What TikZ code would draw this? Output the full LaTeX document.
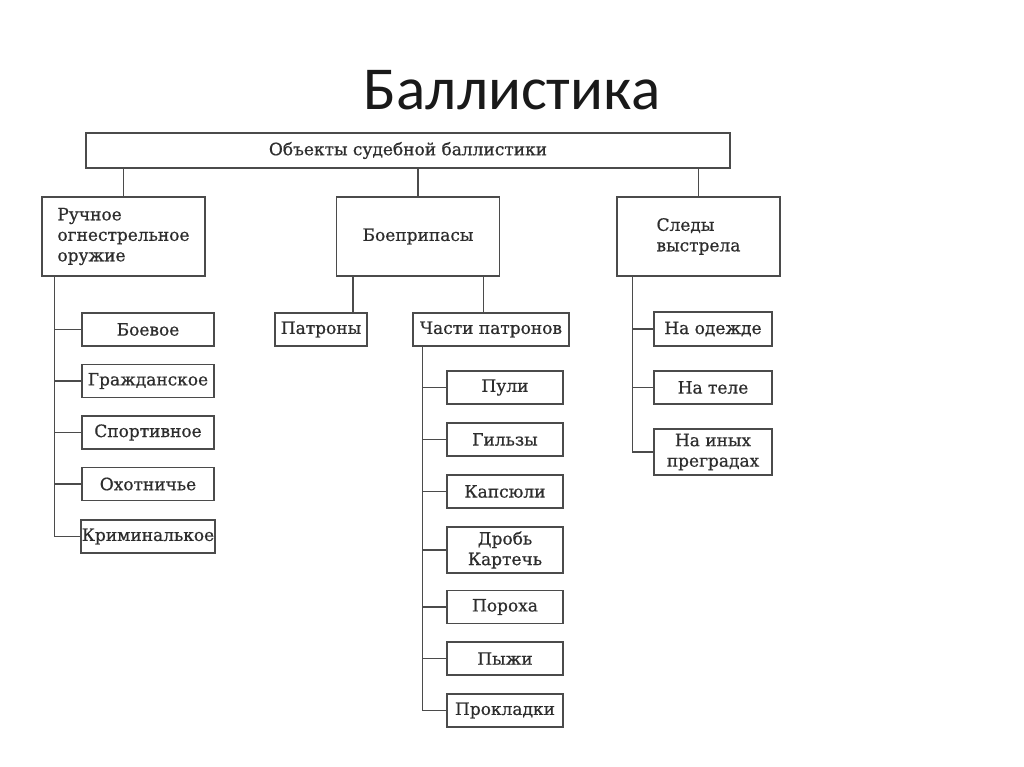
\documentclass[tikz,border=0pt]{standalone}
\usepackage{fontspec}
\setmainfont{DejaVu Serif}
\newfontfamily\boxfont[FakeBold=0.7]{DejaVu Serif}
\newfontfamily\titlefont{Carlito}
\usetikzlibrary{positioning}

\definecolor{inkgray}{RGB}{45, 45, 45}
\definecolor{linegray}{RGB}{75, 75, 75}

\tikzset{
    box/.style={draw=linegray, line width=1.5pt, fill=white, align=center,
        inner sep=1pt, text=inkgray, font=\boxfont\fontsize{17}{20.5}\selectfont},
    bigbox/.style={box, minimum width=163pt, minimum height=79pt, align=left},
    link/.style={draw=linegray, line width=1.5pt},
}

\begin{document}
\begin{tikzpicture}[x=1pt, y=-1pt]
    \useasboundingbox[fill=white] (0,0) rectangle (1024,767);

    % Title
    \node[font=\titlefont\fontsize{61}{66}\selectfont, text=black!90, anchor=base] (title) at (512,110) {Баллистика};

    % Top level
    \node[box, minimum width=644pt, minimum height=35pt] (objects) at (408,150.5) {Объекты судебной баллистики};
    \node[bigbox] (weapon) at (123.5,236.5) {Ручное\\огнестрельное\\оружие};
    \node[bigbox, align=center] (ammo) at (418,236.5) {Боеприпасы};
    \node[bigbox] (traces) at (698.5,236.5) {Следы\\выстрела};

    \foreach \n in {weapon, ammo, traces}
        \draw[link] (objects.south -| \n.north) -- (\n.north);

    % Weapon kinds
    \foreach \name/\y/\txt in {combat/329.5/Боевое, civil/381/Гражданское,
            sport/432.5/Спортивное, hunt/484/Охотничье, crim/536.5/Криминалькое} {
        \node[box, minimum width=132pt, minimum height=33pt] (\name) at (148,\y) {\txt};
    }
    \coordinate (trunkW) at ([xshift=13pt]weapon.south west);
    \draw[link] (trunkW) |- (crim.west);
    \foreach \name in {combat, civil, sport, hunt}
        \draw[link] (trunkW |- \name.west) -- (\name.west);

    % Ammunition
    \node[box, minimum width=92pt, minimum height=33pt] (cart) at (321,329.5) {Патроны};
    \node[box, minimum width=156pt, minimum height=33pt] (parts) at (491,329.5) {Части патронов};
    \coordinate (ammoL) at ([xshift=17pt]ammo.south west);
    \coordinate (ammoR) at ([xshift=-17pt]ammo.south east);
    \draw[link] (ammoL) -- (ammoL |- cart.north);
    \draw[link] (ammoR) -- (ammoR |- parts.north);

    % Cartridge parts
    \foreach \name/\y/\h/\txt in {bullet/387.5/33/Пули, shell/439.5/33/Гильзы,
            primer/491.5/33/Капсюли, shot/550/46/{Дробь\\Картечь},
            powder/607/33/Пороха, wad/658.5/33/Пыжи, gasket/710.5/33/Прокладки} {
        \node[box, minimum width=116pt, minimum height=\h pt] (\name) at (505,\y) {\txt};
    }
    \coordinate (trunkP) at ([xshift=10pt]parts.south west);
    \draw[link] (trunkP) |- (gasket.west);
    \foreach \name in {bullet, shell, primer, shot, powder, wad}
        \draw[link] (trunkP |- \name.west) -- (\name.west);

    % Shot traces
    \foreach \name/\y/\h/\txt in {cloth/329/34/На одежде, body/387.5/33/На теле,
            other/452/46/{На иных\\преградах}} {
        \node[box, minimum width=118pt, minimum height=\h pt] (\name) at (713,\y) {\txt};
    }
    \coordinate (trunkT) at ([xshift=16pt]traces.south west);
    \draw[link] (trunkT) |- (other.west);
    \foreach \name in {cloth, body}
        \draw[link] (trunkT |- \name.west) -- (\name.west);
\end{tikzpicture}
\end{document}
